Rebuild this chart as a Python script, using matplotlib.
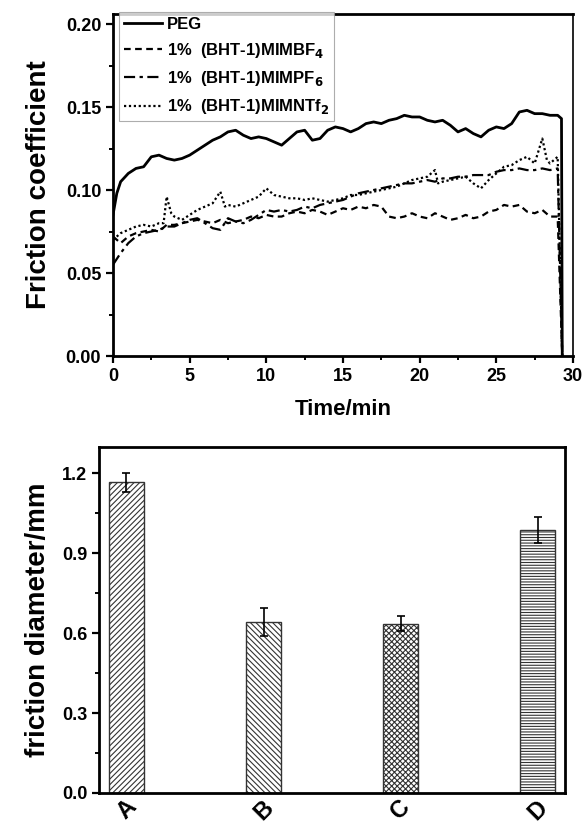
import numpy as np
import matplotlib
matplotlib.use('Agg')
import matplotlib.pyplot as plt

plt.rcParams['font.family'] = ['Liberation Sans', 'DejaVu Sans']
plt.rcParams['font.weight'] = 'bold'
plt.rcParams['hatch.linewidth'] = 0.8

# ---- friction coefficient vs time ----
tPEG = [0, 0.25, 0.5, 1, 1.5, 2, 2.5, 3, 3.5, 4, 4.5, 5, 5.5, 6, 6.5, 7, 7.5, 8, 8.5, 9,
        9.5, 10, 10.5, 11, 11.5, 12, 12.5, 13, 13.5, 14, 14.5, 15, 15.5, 16, 16.5, 17, 17.5,
        18, 18.5, 19, 19.5, 20, 20.5, 21, 21.5, 22, 22.5, 23, 23.5, 24, 24.5, 25, 25.5, 26,
        26.5, 27, 27.5, 28, 28.5, 29, 29.25, 29.3]
yPEG = [0.085, 0.098, 0.105, 0.110, 0.113, 0.114, 0.120, 0.121, 0.119, 0.118, 0.119, 0.121,
        0.124, 0.127, 0.130, 0.132, 0.135, 0.136, 0.133, 0.131, 0.132, 0.131, 0.129, 0.127,
        0.131, 0.135, 0.136, 0.130, 0.131, 0.136, 0.138, 0.137, 0.135, 0.137, 0.140, 0.141,
        0.140, 0.142, 0.143, 0.145, 0.144, 0.144, 0.142, 0.141, 0.142, 0.139, 0.135, 0.137,
        0.134, 0.132, 0.136, 0.138, 0.137, 0.140, 0.147, 0.148, 0.146, 0.146, 0.145, 0.145,
        0.143, 0.0]

tHalf = [0, 0.5, 1, 1.5, 2, 2.5, 3, 3.5, 4, 4.5, 5, 5.5, 6, 6.5, 7, 7.5, 8, 8.5, 9, 9.5,
         10, 10.5, 11, 11.5, 12, 12.5, 13, 13.5, 14, 14.5, 15, 15.5, 16, 16.5, 17, 17.5, 18,
         18.5, 19, 19.5, 20, 20.5, 21, 21.5, 22, 22.5, 23, 23.5, 24, 24.5, 25, 25.5, 26, 26.5,
         27, 27.5, 28, 28.5, 29, 29.3]
yBF4 = [0.072, 0.068, 0.072, 0.074, 0.075, 0.076, 0.075, 0.079, 0.079, 0.080, 0.081, 0.082,
        0.081, 0.080, 0.082, 0.080, 0.081, 0.082, 0.084, 0.083, 0.085, 0.084, 0.084, 0.086,
        0.087, 0.086, 0.088, 0.087, 0.085, 0.087, 0.089, 0.088, 0.090, 0.089, 0.091, 0.090,
        0.084, 0.083, 0.084, 0.086, 0.084, 0.083, 0.086, 0.084, 0.082, 0.083, 0.085, 0.083,
        0.084, 0.087, 0.088, 0.091, 0.090, 0.091, 0.087, 0.086, 0.088, 0.084, 0.084, 0.0]
yPF6 = [0.055, 0.062, 0.068, 0.072, 0.074, 0.075, 0.076, 0.078, 0.078, 0.080, 0.082, 0.083,
        0.080, 0.077, 0.076, 0.083, 0.081, 0.080, 0.082, 0.085, 0.088, 0.087, 0.088, 0.087,
        0.088, 0.090, 0.089, 0.091, 0.092, 0.093, 0.094, 0.096, 0.098, 0.099, 0.100, 0.101,
        0.102, 0.103, 0.104, 0.104, 0.105, 0.106, 0.105, 0.107, 0.107, 0.108, 0.108, 0.109,
        0.109, 0.109, 0.111, 0.112, 0.112, 0.113, 0.112, 0.112, 0.113, 0.112, 0.113, 0.0]

tNTf2 = [0, 0.5, 1, 1.5, 2, 2.5, 3, 3.3, 3.5, 3.8, 4, 4.5, 5, 5.5, 6, 6.5, 7, 7.3, 7.5, 8,
         8.5, 9, 9.5, 10, 10.5, 11, 11.5, 12, 12.5, 13, 13.5, 14, 14.5, 15, 15.5, 16, 16.5,
         17, 17.5, 18, 18.5, 19, 19.5, 20, 20.5, 21, 21.2, 21.5, 22, 22.5, 23, 23.5, 24, 24.5,
         25, 25.5, 26, 26.5, 27, 27.5, 28, 28.3, 28.5, 29, 29.3]
yNTf2 = [0.070, 0.074, 0.076, 0.078, 0.079, 0.078, 0.080, 0.080, 0.096, 0.086, 0.084, 0.082,
         0.085, 0.088, 0.090, 0.092, 0.099, 0.090, 0.091, 0.090, 0.092, 0.094, 0.096, 0.101,
         0.097, 0.096, 0.095, 0.095, 0.094, 0.095, 0.094, 0.093, 0.094, 0.095, 0.097, 0.097,
         0.098, 0.099, 0.100, 0.101, 0.102, 0.104, 0.106, 0.107, 0.108, 0.112, 0.104, 0.105,
         0.106, 0.107, 0.108, 0.104, 0.101, 0.106, 0.110, 0.114, 0.115, 0.118, 0.120, 0.116,
         0.131, 0.118, 0.116, 0.120, 0.0]

# ---- wear scar diameter ----
samples = ['A', 'B', 'C', 'D']
diameter = [1.167, 0.641, 0.636, 0.987]
diameterErr = [0.036, 0.053, 0.028, 0.049]
hatches = ['//////', '\\\\\\\\\\\\', 'xxxxxx', '------']

fig = plt.figure(figsize=(5.86, 8.26), dpi=100)

ax1 = fig.add_axes([0.1928, 0.569, 0.7850, 0.414])
ax1.plot(tPEG, yPEG, color='k', lw=2.0, ls='-', label='PEG')
ax1.plot(tHalf, yBF4, color='k', lw=1.6, ls=(0, (3, 2)), label='1%  (BHT-1)MIMBF$_\\mathbf{4}$')
ax1.plot(tHalf, yPF6, color='k', lw=1.6, ls=(0, (5, 2, 1.5, 2)), label='1%  (BHT-1)MIMPF$_\\mathbf{6}$')
ax1.plot(tNTf2, yNTf2, color='k', lw=1.6, ls=(0, (1, 1.2)), label='1%  (BHT-1)MIMNTf$_\\mathbf{2}$')
ax1.set_xlim(0, 30)
ax1.set_ylim(0, 0.206)
ax1.set_xticks([0, 5, 10, 15, 20, 25, 30])
ax1.set_xticks([2.5, 7.5, 12.5, 17.5, 22.5, 27.5], minor=True)
ax1.set_yticks([0.0, 0.05, 0.10, 0.15, 0.20])
ax1.set_yticklabels(['0.00', '0.05', '0.10', '0.15', '0.20'])
ax1.set_yticks([0.025, 0.075, 0.125, 0.175], minor=True)
ax1.set_xlabel('Time/min', fontsize=16, fontweight='bold', labelpad=10)
ax1.set_ylabel('Friction coefficient', fontsize=20, fontweight='bold', labelpad=10)
leg = ax1.legend(loc='upper left', bbox_to_anchor=(0.012, 1.006), fontsize=12, frameon=True,
                 fancybox=False, edgecolor='#999999', handlelength=2.3, handletextpad=0.3,
                 borderpad=0.3, labelspacing=0.55, borderaxespad=0.0)
leg.get_frame().set_linewidth(0.8)
for t in leg.get_texts():
    t.set_fontweight('bold')

ax2 = fig.add_axes([0.169, 0.040, 0.7952, 0.419])
x = np.arange(len(samples))
bars = ax2.bar(x, diameter, width=0.25, color='white', edgecolor='#333333', linewidth=1.0,
               yerr=diameterErr, capsize=3, error_kw=dict(ecolor='k', elinewidth=1.2, capthick=1.2))
for b, h in zip(bars, hatches):
    b.set_hatch(h)
ax2.set_xlim(-0.2, 3.2)
ax2.set_ylim(0, 1.3)
ax2.set_xticks(x)
ax2.set_xticklabels(samples, rotation=45)
ax2.set_yticks([0.0, 0.3, 0.6, 0.9, 1.2])
ax2.set_yticks([0.15, 0.45, 0.75, 1.05], minor=True)
ax2.set_ylabel('friction diameter/mm', fontsize=20, fontweight='bold', labelpad=8)

for ax in (ax1, ax2):
    for s in ax.spines.values():
        s.set_linewidth(2.0)
    ax.tick_params(which='major', direction='out', length=5, width=1.6, labelsize=13)
    ax.tick_params(which='minor', direction='out', length=3, width=1.4)
    for lab in ax.get_xticklabels() + ax.get_yticklabels():
        lab.set_fontweight('bold')
ax1.spines['right'].set_linewidth(1.2)
ax2.tick_params(axis='x', length=0, labelsize=17, pad=2)

fig.savefig('out.png', dpi=100)
